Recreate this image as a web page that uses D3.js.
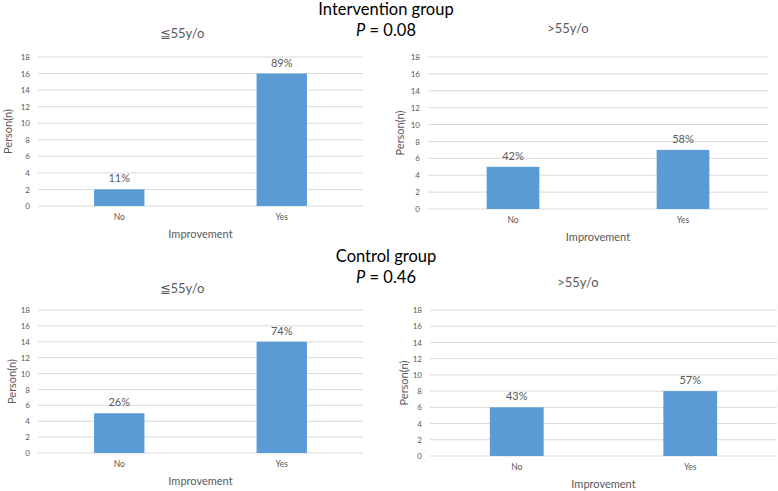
<!DOCTYPE html>
<html>
<head>
<meta charset="utf-8">
<script src="https://cdn.jsdelivr.net/npm/d3@7"></script>
<style>
  body { margin: 0; background: #fff; }
  text { font-family: Lato, "Open Sans", sans-serif; }
</style>
</head>
<body>
<div id="chart-area"></div>
<script>
// Data
var categories = ["No", "Yes"];
var yTicks = [0, 2, 4, 6, 8, 10, 12, 14, 16, 18];

var intYoung = [2, 16];
var intYoungPct = ["11%", "89%"];
var intOld = [5, 7];
var intOldPct = ["42%", "58%"];
var ctlYoung = [5, 14];
var ctlYoungPct = ["26%", "74%"];
var ctlOld = [6, 8];
var ctlOldPct = ["43%", "57%"];

var width = 778, height = 491;

var svg = d3.select("#chart-area")
    .append("svg")
    .attr("width", width)
    .attr("height", height);

// Group titles
function groupTitle(y, name, p) {
    svg.append("text")
        .attr("x", 386).attr("y", y)
        .attr("text-anchor", "middle")
        .attr("font-size", "16.5px")
        .attr("fill", "#000")
        .text(name);
    var t = svg.append("text")
        .attr("x", 386).attr("y", y + 21)
        .attr("text-anchor", "middle")
        .attr("font-size", "16.5px")
        .attr("fill", "#000");
    t.append("tspan").attr("font-style", "italic").text("P");
    t.append("tspan").text(" = " + p);
}
groupTitle(15, "Intervention group", "0.08");
groupTitle(262, "Control group", "0.46");

// One small bar chart
function panel(box, title, values, pcts) {
    var g = svg.append("g");
    var x = d3.scaleBand().domain(categories)
        .range([box.left, box.right]).paddingInner(0.69).paddingOuter(0.345);
    var y = d3.scaleLinear().domain([0, 18]).range([box.bottom, box.top]);

    // gridlines
    g.selectAll(".grid").data(yTicks).enter().append("line")
        .attr("x1", box.left).attr("x2", box.right)
        .attr("y1", function(d){ return y(d); })
        .attr("y2", function(d){ return y(d); })
        .attr("stroke", "#d9d9d9").attr("stroke-width", 1);

    // y axis labels
    var yAxis = g.append("g")
        .attr("transform", "translate(" + (box.left - 4) + ",0)")
        .call(d3.axisLeft(y).tickValues(yTicks).tickSize(0).tickPadding(4));
    yAxis.select(".domain").remove();
    yAxis.selectAll("text").attr("font-size", "8px").attr("fill", "#595959")
        .attr("font-family", "Lato, sans-serif");

    // x axis labels
    var xAxis = g.append("g")
        .attr("transform", "translate(0," + box.bottom + ")")
        .call(d3.axisBottom(x).tickSize(0).tickPadding(8));
    xAxis.select(".domain").remove();
    xAxis.selectAll("text").attr("font-size", "8.5px").attr("fill", "#595959")
        .attr("font-family", "Lato, sans-serif");

    // bars
    g.selectAll(".bar").data(values).enter().append("rect")
        .attr("x", function(d, i){ return x(categories[i]); })
        .attr("width", x.bandwidth())
        .attr("y", function(d){ return y(d); })
        .attr("height", function(d){ return y(0) - y(d); })
        .attr("fill", "#5b9bd5");

    // value labels
    g.selectAll(".lbl").data(values).enter().append("text")
        .attr("x", function(d, i){ return x(categories[i]) + x.bandwidth() / 2; })
        .attr("y", function(d){ return y(d) - 7; })
        .attr("text-anchor", "middle")
        .attr("font-size", "11px")
        .attr("fill", "#595959")
        .text(function(d, i){ return pcts[i]; });

    // titles
    g.append("text")
        .attr("x", box.titleX).attr("y", box.titleY)
        .attr("text-anchor", "middle")
        .attr("font-size", "13px")
        .attr("fill", "#595959")
        .text(title);
    g.append("text")
        .attr("x", (box.left + box.right) / 2).attr("y", box.bottom + 32)
        .attr("text-anchor", "middle")
        .attr("font-size", "11px")
        .attr("fill", "#595959")
        .text("Improvement");
    g.append("text")
        .attr("transform", "rotate(-90)")
        .attr("x", -(box.top + box.bottom) / 2)
        .attr("y", box.ylabX + 4)
        .attr("text-anchor", "middle")
        .attr("font-size", "11px")
        .attr("fill", "#595959")
        .text("Person(n)");
}

panel({ left: 38, right: 363, top: 57, bottom: 206, titleX: 182, titleY: 38, ylabX: 8 },
      "\u226655y/o", intYoung, intYoungPct);
panel({ left: 428, right: 768, top: 57, bottom: 209, titleX: 568, titleY: 33, ylabX: 400 },
      ">55y/o", intOld, intOldPct);
panel({ left: 38, right: 363, top: 310, bottom: 453, titleX: 182, titleY: 293, ylabX: 12 },
      "\u226655y/o", ctlYoung, ctlYoungPct);
panel({ left: 430, right: 777, top: 310, bottom: 456, titleX: 578, titleY: 287, ylabX: 404 },
      ">55y/o", ctlOld, ctlOldPct);
</script>
</body>
</html>
